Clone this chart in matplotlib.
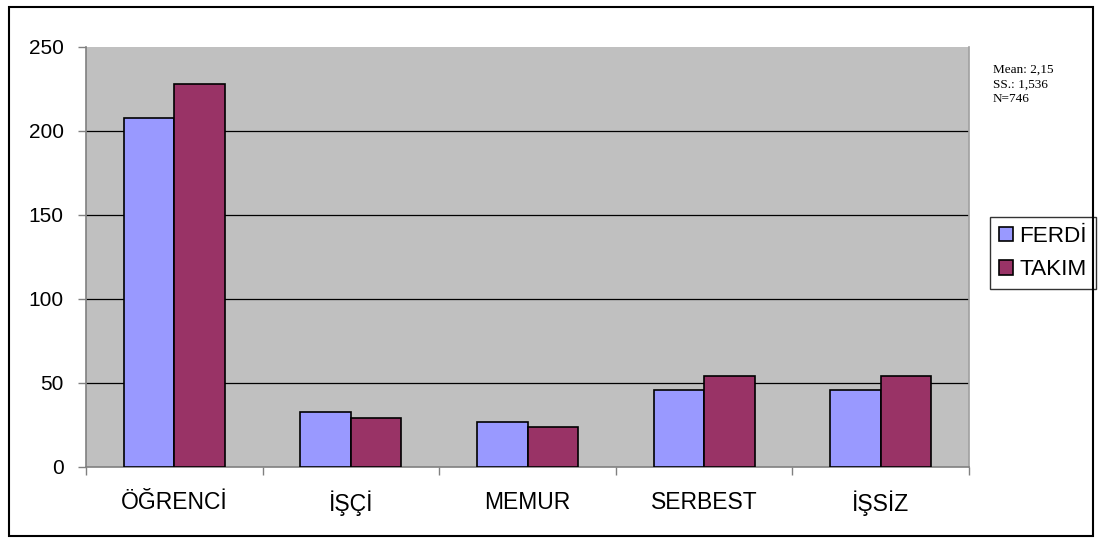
import matplotlib
matplotlib.use("Agg")
import matplotlib.pyplot as plt
from matplotlib.patches import Rectangle
import numpy as np

categories = ["ÖĞRENCİ", "İŞÇİ", "MEMUR", "SERBEST", "İŞSİZ"]
ferdi = [208, 33, 27, 46, 46]
takim = [228, 29, 24, 54, 54]
series_names = ["FERDİ", "TAKIM"]
yticks = [0, 50, 100, 150, 200, 250]
stats_text = "Mean: 2,15\nSS.: 1,536\nN=746"

plt.rcParams['font.family'] = ['Liberation Sans', 'DejaVu Sans']

W, H = 1101, 540
fig = plt.figure(figsize=(W / 100, H / 100), dpi=100)
fig.patch.set_facecolor("white")

# outer border
fig.add_artist(Rectangle((9 / W, 1 - 536 / H), (1093 - 9) / W, (536 - 7) / H,
                         transform=fig.transFigure, fill=False,
                         edgecolor="black", linewidth=1.5))

ax = fig.add_axes([86 / W, 1 - 467 / H, (969 - 86) / W, (467 - 47) / H])
ax.set_facecolor("#C0C0C0")

x = np.arange(len(categories))
bw = 0.286
ax.bar(x - bw / 2, ferdi, width=bw, color="#9999FF", edgecolor="black",
       linewidth=1.2, label=series_names[0], zorder=3)
ax.bar(x + bw / 2, takim, width=bw, color="#993366", edgecolor="black",
       linewidth=1.2, label=series_names[1], zorder=3)

ax.set_xlim(-0.5, len(categories) - 0.5)
ax.set_ylim(0, 250)
ax.set_yticks(yticks)
ax.set_yticklabels([str(v) for v in yticks], fontsize=15)
for v in yticks[1:-1]:
    ax.axhline(v, color="black", linewidth=0.9, zorder=1)

ax.set_xticks(x)
ax.set_xticklabels(categories, fontsize=16.5)
ax.tick_params(axis="x", length=0, pad=17)
ax.set_xticks(np.arange(len(categories) + 1) - 0.5, minor=True)
ax.tick_params(axis="x", which="minor", length=6, color="#808080", width=1)
ax.tick_params(axis="y", length=6, color="#808080", width=1, pad=10)

for side in ["left", "bottom", "right"]:
    ax.spines[side].set_color("#808080")
    ax.spines[side].set_linewidth(1.2)
ax.spines["top"].set_visible(False)
ax.spines["right"].set_color("#A0A0A0")

fig.text(993 / W, 1 - 64 / H, stats_text, fontsize=9.5, family="Liberation Serif",
         va="top", ha="left", linespacing=1.25)

leg = ax.legend(loc="upper left", bbox_to_anchor=(990 / W, 1 - 217 / H),
                bbox_transform=fig.transFigure, fontsize=16.2, frameon=True,
                fancybox=False, edgecolor="black", handlelength=0.6,
                handleheight=0.6, handletextpad=0.3, borderpad=0.4,
                labelspacing=0.55, borderaxespad=0)
leg.get_frame().set_linewidth(1.0)

fig.savefig("out.png", dpi=100, facecolor="white")
